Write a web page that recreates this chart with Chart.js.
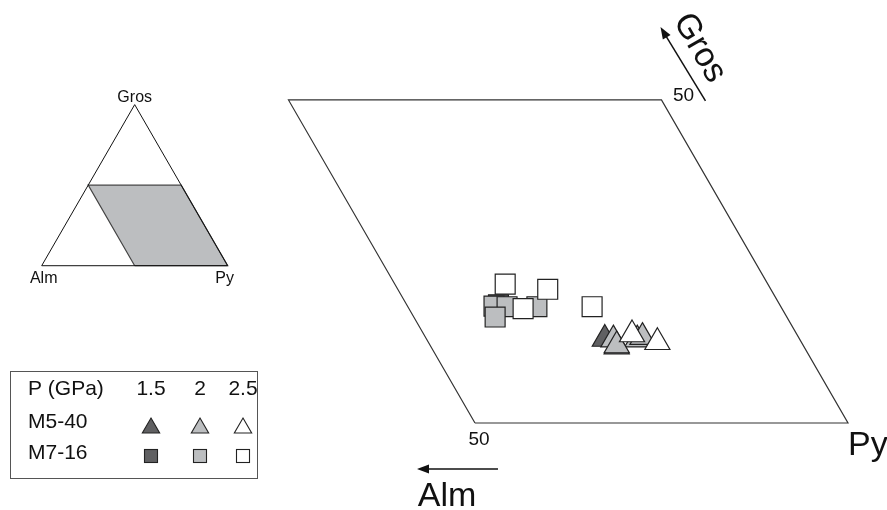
<!DOCTYPE html>
<html>
<head>
<meta charset="utf-8">
<script src="https://cdn.jsdelivr.net/npm/chart.js@4/dist/chart.umd.min.js"></script>
<style>
  body { margin: 0; background: #fff; }
  #wrap { width: 887px; height: 510px; }
</style>
</head>
<body>
<div id="wrap"><canvas id="myChart"></canvas></div>
<script>
// garnet compositions, mol% (Alm = 100 - Py - Gros)
const m540_15_py = [60.9, 63.1];
const m540_15_gros = [13.0, 11.8];
const m540_2_py = [65.3, 65.8, 62.1, 63.0];
const m540_2_gros = [12.9, 13.3, 12.9, 12.0];
const m540_25_py = [64.2, 68.2];
const m540_25_gros = [13.7, 12.5];

const m716_15_py = [44.0];
const m716_15_gros = [18.3];
const m716_2_py = [43.5, 49.3, 45.3, 44.5];
const m716_2_gros = [18.1, 18.0, 18.0, 16.4];
const m716_25_py = [43.3, 49.4, 47.6, 56.7];
const m716_25_gros = [21.5, 20.7, 17.7, 18.0];

// field shown in the big plot: Gros 0-50, Alm 0-50
const field_py = [50, 100, 50, 0, 50];
const field_gros = [0, 0, 50, 50, 0];
// whole ternary for the small inset
const tri_py = [0, 100, 0, 0];
const tri_gros = [0, 0, 100, 0];

const pressures = ['1.5', '2', '2.5'];
const samples = ['M5-40', 'M7-16'];
const fills = ['#606062', '#bcbec0', '#ffffff'];

const S3 = Math.sqrt(3) / 2;
function toXY(py, gros) {
  return py.map((p, i) => ({ x: p + gros[i] / 2, y: gros[i] * S3 }));
}

const FONT = "'Liberation Sans', Arial, sans-serif";

function pts(label, py, gros, style, fill, order, r) {
  return {
    label: label,
    data: toXY(py, gros),
    pointStyle: style,
    pointRadius: r,
    pointBackgroundColor: fill,
    pointBorderColor: '#222',
    pointBorderWidth: 1.2,
    showLine: false,
    order: order
  };
}

const overlay = {
  id: 'overlay',
  afterDraw(chart) {
    const ctx = chart.ctx;
    const sx = chart.scales.x, sy = chart.scales.y;
    const ix = chart.scales.x2, iy = chart.scales.y2;
    const P = (x, y) => [sx.getPixelForValue(x), sy.getPixelForValue(y)];
    const I = (x, y) => [ix.getPixelForValue(x), iy.getPixelForValue(y)];
    ctx.save();
    ctx.fillStyle = '#111';
    ctx.strokeStyle = '#111';

    // inset labels
    ctx.font = '16px ' + FONT;
    ctx.textAlign = 'center';
    ctx.textBaseline = 'alphabetic';
    let g = I(50, 100 * S3);
    ctx.fillText('Gros', g[0], g[1] - 3);
    let a = I(0, 0);
    ctx.fillText('Alm', a[0] + 2, a[1] + 17);
    let p = I(100, 0);
    ctx.fillText('Py', p[0] - 3, p[1] + 17);

    // big plot labels
    const tr = P(75, 50 * S3);
    const bl = P(50, 0);
    const br = P(100, 0);
    ctx.font = '19px ' + FONT;
    ctx.textBaseline = 'middle';
    ctx.fillText('50', tr[0] + 22, tr[1] - 4);
    ctx.fillText('50', bl[0] + 4, bl[1] + 17);

    ctx.font = '34px ' + FONT;
    ctx.textBaseline = 'alphabetic';
    ctx.textAlign = 'left';
    ctx.fillText('Py', br[0], br[1] + 32);
    ctx.textAlign = 'center';
    ctx.fillText('Alm', bl[0] - 28, bl[1] + 83);

    // arrows
    function arrow(x0, y0, x1, y1) {
      const ang = Math.atan2(y1 - y0, x1 - x0);
      ctx.lineWidth = 1.5;
      ctx.beginPath();
      ctx.moveTo(x0, y0);
      ctx.lineTo(x1 - Math.cos(ang) * 8, y1 - Math.sin(ang) * 8);
      ctx.stroke();
      ctx.beginPath();
      ctx.moveTo(x1, y1);
      ctx.lineTo(x1 - Math.cos(ang) * 12 + Math.sin(ang) * 4.5, y1 - Math.sin(ang) * 12 - Math.cos(ang) * 4.5);
      ctx.lineTo(x1 - Math.cos(ang) * 12 - Math.sin(ang) * 4.5, y1 - Math.sin(ang) * 12 + Math.cos(ang) * 4.5);
      ctx.closePath();
      ctx.fill();
    }
    arrow(bl[0] + 23, bl[1] + 46, bl[0] - 58, bl[1] + 46);
    arrow(tr[0] + 44, tr[1] + 1, tr[0] - 1, tr[1] - 73);

    // rotated Gros
    ctx.save();
    ctx.translate(tr[0] + 38, tr[1] - 52);
    ctx.rotate(Math.PI / 3);
    ctx.font = '34px ' + FONT;
    ctx.textAlign = 'center';
    ctx.textBaseline = 'middle';
    ctx.fillText('Gros', 0, 0);
    ctx.restore();

    // legend box
    ctx.lineWidth = 1;
    ctx.strokeStyle = '#555';
    ctx.strokeRect(10.5, 371.5, 247, 107);
    ctx.font = '21px ' + FONT;
    ctx.textBaseline = 'middle';
    ctx.textAlign = 'left';
    ctx.fillText('P (GPa)', 28, 389);
    ctx.fillText(samples[0], 28, 422);
    ctx.fillText(samples[1], 28, 453);
    const cols = [151, 200, 243];
    ctx.textAlign = 'center';
    ctx.strokeStyle = '#222';
    ctx.lineWidth = 1.1;
    pressures.forEach((pr, i) => {
      ctx.fillStyle = '#111';
      ctx.fillText(pr, cols[i], 389);
      // triangle
      const r = 10, cx = cols[i], cy = 428;
      ctx.beginPath();
      ctx.moveTo(cx, cy - r);
      ctx.lineTo(cx + r * 0.866, cy + r / 2);
      ctx.lineTo(cx - r * 0.866, cy + r / 2);
      ctx.closePath();
      ctx.fillStyle = fills[i];
      ctx.fill();
      ctx.stroke();
      // square
      ctx.fillStyle = fills[i];
      ctx.fillRect(cx - 6.5, 449.5, 13, 13);
      ctx.strokeRect(cx - 6.5, 449.5, 13, 13);
    });
    ctx.restore();
  }
};

const ctx = document.getElementById('myChart').getContext('2d');
const myChart = new Chart(ctx, {
  type: 'scatter',
  data: {
    datasets: [
      pts('M7-16 2.5 GPa', m716_25_py, m716_25_gros, 'rect', fills[2], 1, 14.1),
      pts('M7-16 2 GPa', m716_2_py, m716_2_gros, 'rect', fills[1], 2, 14.1),
      pts('M7-16 1.5 GPa', m716_15_py, m716_15_gros, 'rect', fills[0], 3, 14.1),
      pts('M5-40 2.5 GPa', m540_25_py, m540_25_gros, 'triangle', fills[2], 1, 14.5),
      pts('M5-40 2 GPa', m540_2_py, m540_2_gros, 'triangle', fills[1], 2, 14.5),
      pts('M5-40 1.5 GPa', m540_15_py, m540_15_gros, 'triangle', fills[0], 3, 14.5),
      {
        label: 'field',
        data: toXY(field_py, field_gros),
        showLine: true,
        borderColor: '#333',
        borderWidth: 1.2,
        pointRadius: 0,
        fill: false,
        order: 10
      },
      {
        label: 'inset field',
        data: toXY(field_py, field_gros),
        xAxisID: 'x2',
        yAxisID: 'y2',
        showLine: true,
        borderColor: '#444',
        borderWidth: 1.2,
        backgroundColor: '#bcbec0',
        pointRadius: 0,
        fill: 'shape',
        order: 11
      },
      {
        label: 'inset triangle',
        data: toXY(tri_py, tri_gros),
        xAxisID: 'x2',
        yAxisID: 'y2',
        showLine: true,
        borderColor: '#111',
        borderWidth: 1,
        pointRadius: 0,
        fill: false,
        order: 9
      }
    ]
  },
  options: {
    responsive: true,
    maintainAspectRatio: false,
    animation: false,
    events: [],
    layout: { padding: 0, autoPadding: false },
    plugins: {
      legend: { display: false },
      tooltip: { enabled: false }
    },
    scales: {
      x: { type: 'linear', display: false, min: -13.67, max: 105.23 },
      y: { type: 'linear', display: false, min: -11.66, max: 56.70 },
      x2: { type: 'linear', axis: 'x', display: false, min: -22.42, max: 454.5 },
      y2: { type: 'linear', axis: 'y', display: false, min: -131.34, max: 142.85 }
    }
  },
  plugins: [overlay]
});
</script>
</body>
</html>
